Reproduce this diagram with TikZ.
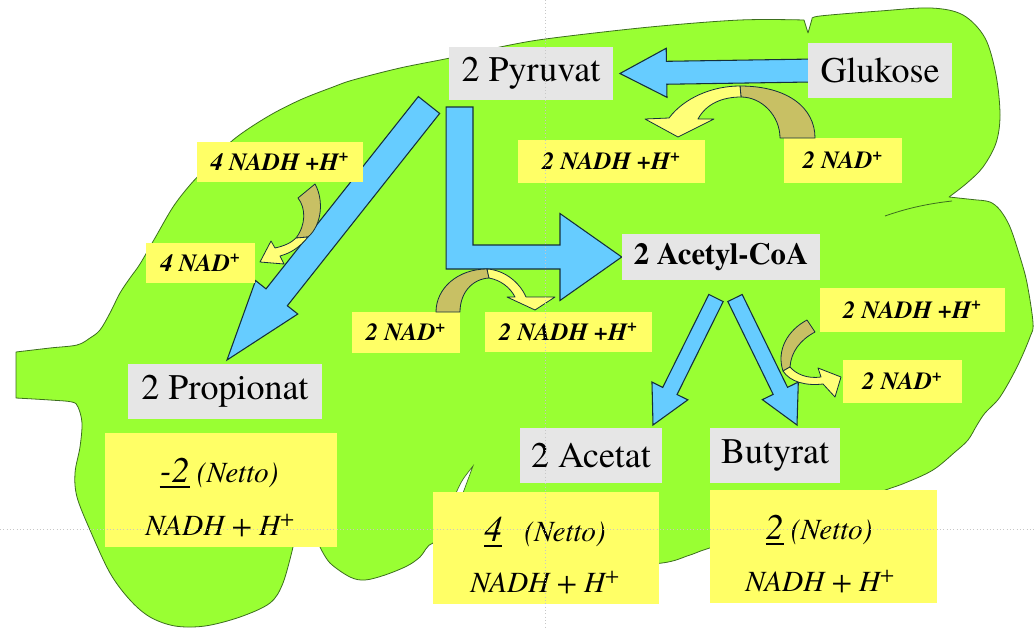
\documentclass[tikz,border=0pt]{standalone}
\usepackage{fontspec}
\setmainfont{TeX Gyre Termes}
\usetikzlibrary{calc}

\definecolor{leafgreen}{HTML}{99FF33}
\definecolor{leafline}{HTML}{3C6E1E}
\definecolor{flowblue}{HTML}{66CCFF}
\definecolor{flowline}{HTML}{14303C}
\definecolor{boxgray}{HTML}{E6E6E6}
\definecolor{labelyellow}{HTML}{FFFF66}
\definecolor{arcolive}{HTML}{C8C064}
\definecolor{arcyellow}{HTML}{FFFF78}

\pgfdeclarelayer{leafbg}
\pgfdeclarelayer{flowbg}
\pgfsetlayers{leafbg,flowbg,main}

\tikzset{
  leaf/.style={fill=leafgreen, draw=leafline, line width=0.6pt, line join=round},
  flow/.style={fill=flowblue, draw=flowline, line width=0.8pt, line join=miter},
  species/.style={fill=boxgray, inner sep=0pt, font=\fontsize{27}{30}\selectfont},
  cofactor/.style={fill=labelyellow, inner sep=0pt, font=\fontsize{18.5}{20}\selectfont\bfseries\itshape},
  balance/.style={fill=labelyellow, inner sep=0pt},
  netline/.style={inner sep=0pt, font=\fontsize{22}{24}\selectfont\itshape},
  backarc/.style={fill=arcolive, draw=flowline, line width=0.6pt, line join=round},
  frontarc/.style={fill=arcyellow, draw=flowline, line width=0.6pt, line join=round},
  guide/.style={draw=black!22, dotted, line width=0.5pt},
}

% block arrow: start, tip, shaft half width, head half width, head length
\newcommand\blockarr[5]{%
  \path ($(#2)!#5!(#1)$) coordinate (hb);
  \draw[flow] ($(#1)!#3!90:(#2)$) -- ($(hb)!#3!90:(#2)$) -- ($(hb)!#4!90:(#2)$)
    -- (#2) -- ($(hb)!#4!-90:(#2)$) -- ($(hb)!#3!-90:(#2)$) -- ($(#1)!#3!-90:(#2)$) -- cycle;}

% underlined net number with a firm rule
\newlength\netwd
\newcommand\netnum[1]{{\fontsize{27}{30}\selectfont\settowidth\netwd{#1}%
  \rlap{\rule[-4pt]{\netwd}{1.1pt}}#1}}

\begin{document}
\begin{tikzpicture}[x=0.75pt,y=-0.75pt]
\useasboundingbox (0,0) rectangle (1034,628);

% substances
\node[species, minimum width=123pt, minimum height=39.75pt] (pyr) at (531,73.5) {2 Pyruvat};
\node[species, minimum width=108pt, minimum height=41.25pt] (glu) at (880,70.5) {Glukose};
\node[species, minimum width=148.5pt, minimum height=34.5pt, font=\fontsize{23}{26}\selectfont\bfseries]
  (acetyl) at (721,257) {2 Acetyl-CoA};
\node[species, minimum width=145.5pt, minimum height=41.25pt] (prop) at (225,391.5) {2 Propionat};
\node[species, minimum width=106.5pt, minimum height=41.25pt] (acetat) at (591,455.5) {2 Acetat};
\node[species, minimum width=97.5pt, minimum height=41.25pt] (butyrat) at (775,455.5) {Butyrat};

\begin{pgfonlayer}{leafbg}
\fill[white] (0,0) rectangle (1034,628);
% the leaf
\filldraw[leaf]
  plot[smooth, tension=0.55] coordinates {(16,352) (50,348) (77,345) (90,338) (100,330) (110,313) (120,293)
     (130,278) (140,264) (155,238) (173,207) (190,185) (207,167) (233,140) (267,117) (300,100) (333,87)
     (353,80) (400,68) (450,58) (510,45) (553,38) (650,27) (740,20) (804,20)}
  -- (808,33) --
  plot[smooth, tension=0.55] coordinates {(812,19) (820,16) (880,11) (931,8) (963,15) (985,38) (996,75)
     (1000,115) (996,143) (983,167) (967,183) (949,197)}
  --
  plot[smooth, tension=0.55] coordinates {(977,200) (990,202) (1000,210) (1010,227) (1020,257) (1027,283)
     (1033,323) (1030,337) (1017,367) (1000,397) (985,413) (977,425) (968,440) (955,452) (933,470)
     (905,483) (880,492) (800,522) (713,547) (690,555) (662,563) (600,566) (520,560) (460,548) (433,543)
     (420,557) (407,566) (385,575) (365,580) (350,577) (330,563) (320,547)}
  -- (306,518) --
  plot[smooth, tension=0.55] coordinates {(293,547) (283,583) (270,603) (240,617) (205,626) (175,626)
     (150,617) (130,600) (110,573) (90,530) (77,497) (75,473) (80,447) (82,423) (78,407) (72,402)
     (50,400) (16,398)}
  -- cycle;
% fold line where the two right lobes meet
\draw[leafline, line width=0.6pt] (952,201) .. controls (925,204) and (905,209) .. (885,216);
% small tear above the acetate balance
\filldraw[fill=white, draw=leafline, line width=0.5pt] (456,493) .. controls (462,480) .. (473,466)
  .. controls (468,480) .. (463,493) -- cycle;
\end{pgfonlayer}

% end points of the block arrows
\coordinate (g1) at ([xshift=4pt]glu.west);
\coordinate (g2) at ([xshift=5pt]pyr.east);
\coordinate (p1) at (429,105);
\coordinate (p2) at (227,360);
\coordinate (c1) at (716,298);
\coordinate (c2) at (653,425);
\coordinate (c3) at (735,298);
\coordinate (c4) at (797,425);
\coordinate (ltop) at (459.5,107);
\coordinate (lhead) at (560,257);

% flow arrows
\begin{pgfonlayer}{flowbg}
\blockarr{g1}{g2}{8.6pt}{18.4pt}{35pt}
\blockarr{p1}{p2}{10.2pt}{20.2pt}{60pt}
\blockarr{c1}{c2}{6pt}{15pt}{28.5pt}
\blockarr{c3}{c4}{6pt}{15pt}{28.5pt}
\draw[flow] ([xshift=-10.1pt]ltop) |- ([yshift=-9pt]lhead) -- ([yshift=-32.6pt]lhead) -- (acetyl.west)
  -- ([yshift=32.6pt]lhead) -- ([yshift=9pt]lhead) -| ([xshift=10.1pt]ltop) -- cycle;
\end{pgfonlayer}

% cofactor labels
\node[cofactor, minimum width=140.25pt, minimum height=32.25pt] (nadhT) at (611.5,161.5) {2 NADH +H\textsuperscript{+}};
\node[cofactor, minimum width=88.5pt, minimum height=33.75pt] (nadT) at (843,160.5) {2 NAD\textsuperscript{+}};
\node[cofactor, minimum width=124.5pt, minimum height=30pt] (nadhL) at (280,162) {4 NADH +H\textsuperscript{+}};
\node[cofactor, minimum width=81.75pt, minimum height=30pt] (nadL) at (200.5,263) {4 NAD\textsuperscript{+}};
\node[cofactor, minimum width=81pt, minimum height=30.75pt] (nadM) at (406,332.5) {2 NAD\textsuperscript{+}};
\node[cofactor, minimum width=125.25pt, minimum height=30pt] (nadhM) at (568.5,332) {2 NADH +H\textsuperscript{+}};
\node[cofactor, minimum width=138.75pt, minimum height=33pt] (nadhR) at (912.5,310) {2 NADH +H\textsuperscript{+}};
\node[cofactor, minimum width=89.25pt, minimum height=32.25pt] (nadR) at (902.5,381.5) {2 NAD\textsuperscript{+}};

% curved cofactor arrows
\filldraw[backarc] (780,138) -- (815,138) .. controls (815,108) and (788,86) .. (740,86)
  -- (741,97) .. controls (762,97) and (780,116) .. (780,138) -- cycle;
\filldraw[frontarc] (740,86) .. controls (712,86) and (684,98) .. (669,118) -- (645,119) -- (678,137)
  -- (714,119) -- (698,119) .. controls (706,104) and (722,97) .. (741,97) -- cycle;

\filldraw[backarc] (436,312) .. controls (436,288) and (458,269) .. (487,269)
  -- (489,278) .. controls (472,279) and (460,293) .. (460,312) -- cycle;
\filldraw[frontarc] (487,269) .. controls (505,270) and (520,283) .. (526,297) -- (555,297) -- (535,310)
  -- (507,297) -- (515,297) .. controls (510,287) and (500,280) .. (489,278) -- cycle;

\filldraw[backarc] (298,198) -- (315,184) .. controls (324,200) and (322,225) .. (308,237)
  -- (296,238) .. controls (306,225) and (306,208) .. (298,198) -- cycle;
\filldraw[frontarc] (308,237) .. controls (300,247) and (291,253) .. (280,256) -- (284,264) -- (260,262)
  -- (271,241) -- (275,248) .. controls (284,246) and (291,243) .. (296,238) -- cycle;

\filldraw[backarc] (807,320) -- (815,332) .. controls (800,340) and (791,352) .. (790,367)
  -- (783,371) .. controls (776,350) and (788,330) .. (807,320) -- cycle;
\filldraw[frontarc] (783,371) .. controls (790,382) and (806,386) .. (823,384) -- (835,397) -- (841,377)
  -- (818,368) -- (821,377) .. controls (807,379) and (796,374) .. (790,367) -- cycle;

% net balances
\node[balance, minimum width=174pt, minimum height=85.5pt] (propY) at (221,490) {};
\node[balance, minimum width=169.5pt, minimum height=84pt] (acetY) at (546,548) {};
\node[balance, minimum width=170.25pt, minimum height=84.75pt] (butY) at (823.5,546.5) {};
\node[netline] (propL1) at (219,473) {\netnum{-2} (Netto)};
\node[netline] (propL2) at (220,526) {NADH + H\textsuperscript{+}};
\node[netline] (acetL1) at (545,532) {\netnum{4}\ \ \ (Netto)};
\node[netline] (acetL2) at (545,583) {NADH + H\textsuperscript{+}};
\node[netline] (butL1) at (819,530) {\netnum{2} (Netto)};
\node[netline] (butL2) at (820,582) {NADH + H\textsuperscript{+}};

% slide guides
\draw[guide] (545,0) -- (545,628);
\draw[guide] (0,529) -- (1034,529);
\end{tikzpicture}
\end{document}
